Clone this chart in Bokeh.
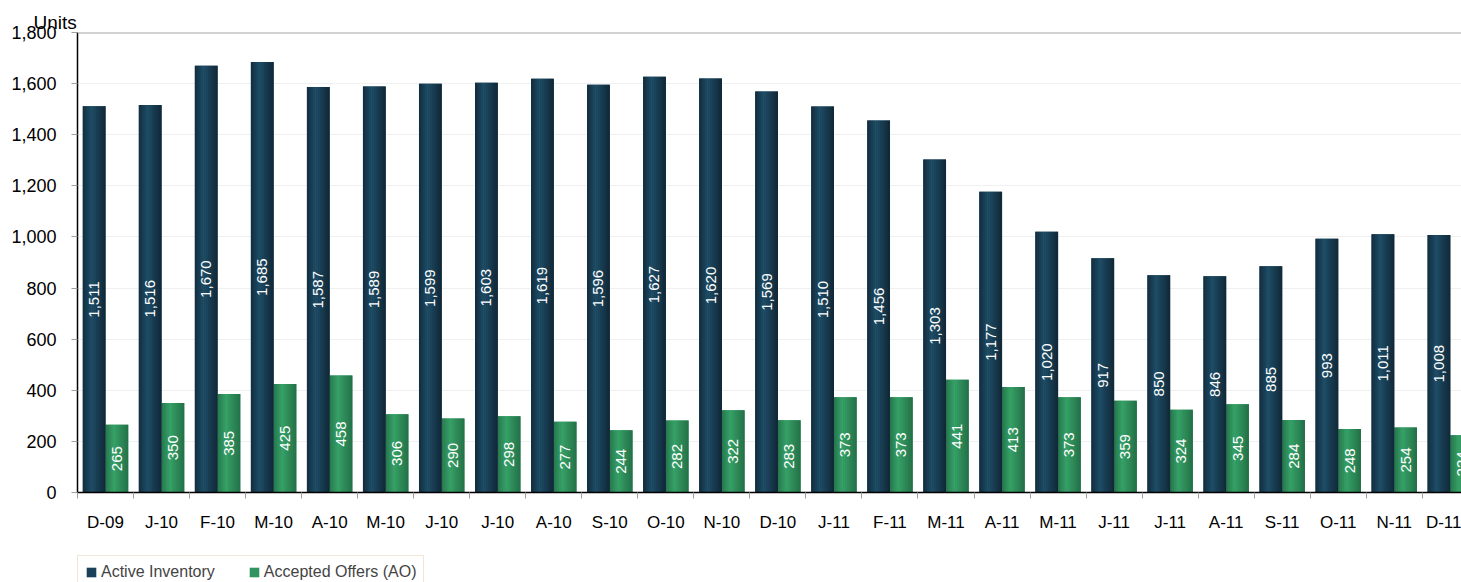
import numpy as np
from bokeh.plotting import figure
from bokeh.layouts import column
from bokeh.models import (Range1d, FixedTicker, NumeralTickFormatter, Legend, LegendItem,
                          Span, Title, ColumnDataSource)
from bokeh.core.properties import value
from bokeh.embed import file_html
from bokeh.resources import INLINE

categories = ["D-09", "J-10", "F-10", "M-10", "A-10", "M-10", "J-10", "J-10", "A-10", "S-10",
              "O-10", "N-10", "D-10", "J-11", "F-11", "M-11", "A-11", "M-11", "J-11", "J-11",
              "A-11", "S-11", "O-11", "N-11", "D-11"]
active_inventory = [1511, 1516, 1670, 1685, 1587, 1589, 1599, 1603, 1619, 1596, 1627, 1620, 1569,
                    1510, 1456, 1303, 1177, 1020, 917, 850, 846, 885, 993, 1011, 1008]
accepted_offers = [265, 350, 385, 425, 458, 306, 290, 298, 277, 244, 282, 322, 283, 373, 373,
                   441, 413, 373, 359, 324, 345, 284, 248, 254, 224]
y_ticks = [0, 200, 400, 600, 800, 1000, 1200, 1400, 1600, 1800]

FONT = "Liberation Sans"
AI_COLOR = "#1a4157"
AO_COLOR = "#2f9460"
n = len(categories)
centers = np.arange(n) + 0.5
BW = 0.405
x_ai = centers - BW / 2
x_ao = centers + BW / 2

p = figure(width=1461, height=546, output_backend="svg", toolbar_location=None,
           x_range=Range1d(0, 24.7), y_range=Range1d(0, 1800),
           min_border_left=77, min_border_right=0, min_border_top=32, min_border_bottom=54)
p.outline_line_color = None
p.background_fill_color = "white"
p.border_fill_color = "white"

src = ColumnDataSource(dict(x_ai=x_ai, x_ao=x_ao, ai=active_inventory, ao=accepted_offers,
                            ai_mid=[v / 2 for v in active_inventory],
                            ao_mid=[v / 2 for v in accepted_offers],
                            ai_lbl=[f"{v:,}" for v in active_inventory],
                            ao_lbl=[f"{v:,}" for v in accepted_offers]))

p.vbar(x="x_ai", top="ai", width=BW, source=src, fill_color=AI_COLOR, line_color=None)
p.vbar(x="x_ao", top="ao", width=BW, source=src, fill_color=AO_COLOR, line_color=None)


def shade(c0, c1, t):
    c0 = np.array([int(c0[i:i + 2], 16) for i in (1, 3, 5)])
    c1 = np.array([int(c1[i:i + 2], 16) for i in (1, 3, 5)])
    c = (c0 + (c1 - c0) * t).astype(int)
    return "#%02x%02x%02x" % tuple(c)


NS = 12
for k in range(NS):
    t = (k + 0.5) / NS
    if t < 0.38:
        f = 0.35 + 0.65 * (t / 0.38)
    else:
        f = 1.0 - 0.75 * ((t - 0.38) / 0.62)
    f = max(0.0, min(1.0, f))
    off = -BW / 2 + (k + 0.5) * BW / NS
    p.vbar(x=[v + off for v in x_ai], top=active_inventory, width=BW / NS * 1.06,
           fill_color=shade("#0b1a25", "#1f4e68", f), line_color=None)
    p.vbar(x=[v + off for v in x_ao], top=accepted_offers, width=BW / NS * 1.06,
           fill_color=shade("#1d5e3c", "#37a268", f), line_color=None)

p.text(x="x_ai", y="ai_mid", text="ai_lbl", source=src, angle=np.pi / 2,
       text_align="center", text_baseline="middle", text_color="white",
       text_font=value(FONT), text_font_size="15px")
p.text(x="x_ao", y="ao_mid", text="ao_lbl", source=src, angle=np.pi / 2,
       text_align="center", text_baseline="middle", text_color="white",
       text_font=value(FONT), text_font_size="15px")

# axes
p.xaxis.ticker = FixedTicker(ticks=list(centers), minor_ticks=list(range(n + 1)))
p.xaxis.major_label_overrides = {float(c): lab for c, lab in zip(centers, categories)}
p.xaxis.major_tick_out = 0
p.xaxis.major_tick_in = 0
p.xaxis.minor_tick_out = 6
p.xaxis.minor_tick_in = 0
p.xaxis.minor_tick_line_color = "#a0a0a0"
p.xaxis.axis_line_color = "black"
p.xaxis.axis_line_width = 1.5
p.xaxis.major_label_standoff = 14
p.xaxis.major_label_text_font = FONT
p.xaxis.major_label_text_font_size = "17px"
p.xaxis.major_label_text_color = "black"

p.yaxis.ticker = FixedTicker(ticks=y_ticks, minor_ticks=[])
p.yaxis.formatter = NumeralTickFormatter(format="0,0")
p.yaxis.major_tick_out = 6
p.yaxis.major_tick_in = 0
p.yaxis.major_tick_line_color = "#a0a0a0"
p.yaxis.axis_line_color = "black"
p.yaxis.axis_line_width = 1.5
p.yaxis.major_label_standoff = 15
p.yaxis.major_label_text_font = FONT
p.yaxis.major_label_text_font_size = "18px"
p.yaxis.major_label_text_color = "black"

p.xgrid.grid_line_color = None
p.ygrid.grid_line_color = "#f0f0f0"
p.ygrid.ticker = FixedTicker(ticks=y_ticks)

p.add_layout(Span(location=1800, dimension="width", line_color="#a6a6a6", line_width=2))

p.add_layout(Title(text="Units", align="left", offset=-44, standoff=0,
                   text_font=FONT, text_font_size="19px", text_font_style="normal",
                   text_color="black"), "above")

# legend strip below the chart
lg = figure(width=1461, height=36, output_backend="svg", toolbar_location=None,
            x_range=Range1d(0, 1), y_range=Range1d(0, 1),
            min_border_left=0, min_border_right=0, min_border_top=0, min_border_bottom=0)
lg.axis.visible = False
lg.grid.visible = False
lg.outline_line_color = None
lg_ai = lg.vbar(x=[5], top=[1], width=0.1, fill_color=AI_COLOR, line_color=None)
lg_ao = lg.vbar(x=[5], top=[1], width=0.1, fill_color=AO_COLOR, line_color=None)
legend = Legend(items=[LegendItem(label="Active Inventory", renderers=[lg_ai]),
                       LegendItem(label="Accepted Offers (AO)", renderers=[lg_ao])],
                orientation="horizontal", location=(0, -7),
                padding=7, spacing=33, label_standoff=4, glyph_width=12, glyph_height=12,
                label_text_font=FONT, label_text_font_size="16px",
                border_line_color="#e6cdb4", border_line_width=1.5,
                background_fill_color="white", background_fill_alpha=1)
legend.margin = 0
lg.add_layout(legend, "center")

layout = column(p, lg, spacing=0)
open("out.html", "w").write(file_html(layout, INLINE))
